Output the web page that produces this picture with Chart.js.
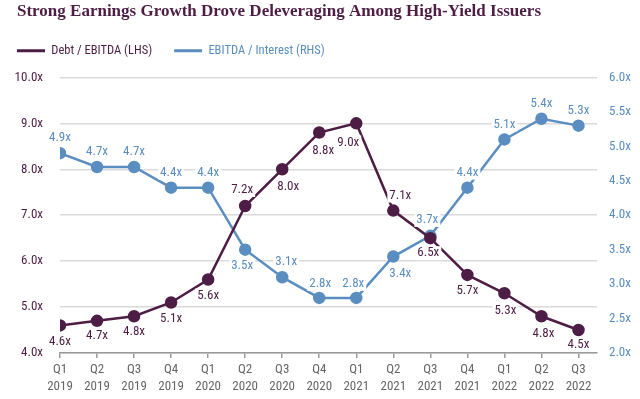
<!DOCTYPE html>
<html>
<head>
<meta charset="utf-8">
<script src="https://cdn.jsdelivr.net/npm/chart.js@4/dist/chart.umd.min.js"></script>
<style>
  html, body { margin: 0; padding: 0; background: #fff; }
  #wrap { width: 640px; height: 399px; }
</style>
</head>
<body>
<div id="wrap"><canvas id="myChart" width="640" height="399"></canvas></div>
<script>
const quarters = ['Q1', 'Q2', 'Q3', 'Q4', 'Q1', 'Q2', 'Q3', 'Q4', 'Q1', 'Q2', 'Q3', 'Q4', 'Q1', 'Q2', 'Q3'];
const years = ['2019', '2019', '2019', '2019', '2020', '2020', '2020', '2020', '2021', '2021', '2021', '2021', '2022', '2022', '2022'];
const debtEbitda = [4.6, 4.7, 4.8, 5.1, 5.6, 7.2, 8.0, 8.8, 9.0, 7.1, 6.5, 5.7, 5.3, 4.8, 4.5];
const ebitdaInterest = [4.9, 4.7, 4.7, 4.4, 4.4, 3.5, 3.1, 2.8, 2.8, 3.4, 3.7, 4.4, 5.1, 5.4, 5.3];
const leftTicks = [4, 5, 6, 7, 8, 9, 10];
const rightTicks = [2, 2.5, 3, 3.5, 4, 4.5, 5, 5.5, 6];

// label placement (style only): offset from the point in px
const debtLabelDx = [0, 0, 0, 0, 0, -3, 6, 4, -8, 7, -2, 0, 1, 2, 0];
const debtLabelDy = [16, 15, 15, 16, 16, -16, 17, 18, 19, -15, 15, 16, 17, 17, 15];
const intLabelDx = [0, 0, 0, 0, 0, -3, 4, 1, -3, 7, -3, 0, 0, 0, 0];
const intLabelDy = [-15, -15, -15, -15, -15, 16, -15, -14, -14, 17, -16, -15, -15, -15, -15];

const PURPLE = '#4e1d45';
const BLUE = '#5b8ec0';
const GREY = '#666666';
const FONT = "'Liberation Sans Narrow', 'Roboto Condensed', Roboto, sans-serif";

const valueLabels = {
  id: 'valueLabels',
  afterLayout(chart) {
    // title and legend start 17px from the left edge like the original
    chart.titleBlock.left += 17;
    chart.legend.left -= chart.options.plugins.legend.labels.padding - 17;
  },
  afterDatasetsDraw(chart) {
    const ctx = chart.ctx;
    ctx.save();
    ctx.font = '13px ' + FONT;
    ctx.textAlign = 'center';
    ctx.textBaseline = 'middle';
    chart.data.datasets.forEach((ds, di) => {
      const meta = chart.getDatasetMeta(di);
      const dxs = di === 0 ? debtLabelDx : intLabelDx;
      const dys = di === 0 ? debtLabelDy : intLabelDy;
      meta.data.forEach((pt, i) => {
        const txt = ds.data[i].y.toFixed(1) + 'x';
        const x = pt.x + dxs[i];
        const y = pt.y + dys[i];
        const w = ctx.measureText(txt).width;
        ctx.fillStyle = '#fff';
        ctx.fillRect(x - w / 2 - 2, y - 7, w + 4, 14);
        ctx.fillStyle = ds.borderColor;
        ctx.fillText(txt, x, y);
      });
    });
    ctx.restore();
  }
};

const ctx = document.getElementById('myChart').getContext('2d');
new Chart(ctx, {
  type: 'line',
  data: {
    datasets: [{
      label: 'Debt / EBITDA (LHS)',
      data: debtEbitda.map((v, i) => ({ x: i, y: v })),
      borderColor: PURPLE,
      backgroundColor: PURPLE,
      borderWidth: 2.5,
      pointRadius: 5,
      pointHoverRadius: 5,
      yAxisID: 'y',
      tension: 0
    }, {
      label: 'EBITDA / Interest (RHS)',
      data: ebitdaInterest.map((v, i) => ({ x: i, y: v })),
      borderColor: BLUE,
      backgroundColor: BLUE,
      borderWidth: 2.5,
      pointRadius: 5,
      pointHoverRadius: 5,
      yAxisID: 'y1',
      tension: 0
    }]
  },
  options: {
    responsive: false,
    animation: false,
    layout: { padding: 0 },
    plugins: {
      title: {
        display: true,
        text: 'Strong Earnings Growth Drove Deleveraging Among High-Yield Issuers',
        align: 'start',
        color: PURPLE,
        font: { family: "'Liberation Serif', 'DejaVu Serif', serif", size: 17, weight: 'bold' },
        padding: { top: 1, bottom: 1 }
      },
      // empty spacer between legend and plot area
      subtitle: {
        display: true,
        text: '',
        font: { size: 1 },
        padding: { top: 0, bottom: 9.3 }
      },
      legend: {
        align: 'start',
        weight: 1800,
        labels: {
          boxWidth: 28,
          boxHeight: 3,
          padding: 22,
          font: { family: FONT, size: 12.5 },
          generateLabels(chart) {
            return chart.data.datasets.map((ds, i) => ({
              text: ds.label,
              fillStyle: ds.borderColor,
              strokeStyle: ds.borderColor,
              lineWidth: 0,
              fontColor: ds.borderColor,
              datasetIndex: i,
              hidden: false
            }));
          }
        }
      },
      tooltip: { enabled: false }
    },
    scales: {
      x: {
        type: 'linear',
        min: 0,
        max: 14.5,
        afterBuildTicks(s) { s.ticks = quarters.map((q, i) => ({ value: i })); },
        afterFit(s) { s.height = 46; },
        ticks: {
          stepSize: 1,
          autoSkip: false,
          maxRotation: 0,
          padding: 3,
          color: GREY,
          font: { family: FONT, size: 13, lineHeight: 1.3 },
          callback: (v) => [quarters[v], years[v]]
        },
        grid: { drawOnChartArea: false, drawTicks: true, tickLength: 5, color: '#9a9a9a', lineWidth: 1.5 },
        border: { color: '#9a9a9a', width: 1.5 }
      },
      y: {
        position: 'left',
        min: 4,
        max: 10,
        afterBuildTicks(s) { s.ticks = leftTicks.map(v => ({ value: v })); },
        afterFit(s) { s.width = 60; },
        ticks: {
          padding: 17,
          color: PURPLE,
          font: { family: FONT, size: 13 },
          callback: (v) => v.toFixed(1) + 'x'
        },
        grid: { drawTicks: false, color: '#dadada', lineWidth: 1.5 },
        border: { display: false }
      },
      y1: {
        position: 'right',
        min: 2,
        max: 6,
        afterBuildTicks(s) { s.ticks = rightTicks.map(v => ({ value: v })); },
        afterFit(s) { s.width = 43; },
        ticks: {
          padding: 12,
          color: BLUE,
          font: { family: FONT, size: 13 },
          callback: (v) => v.toFixed(1) + 'x'
        },
        grid: { drawOnChartArea: false, drawTicks: false },
        border: { display: false }
      }
    }
  },
  plugins: [valueLabels]
});
</script>
</body>
</html>
